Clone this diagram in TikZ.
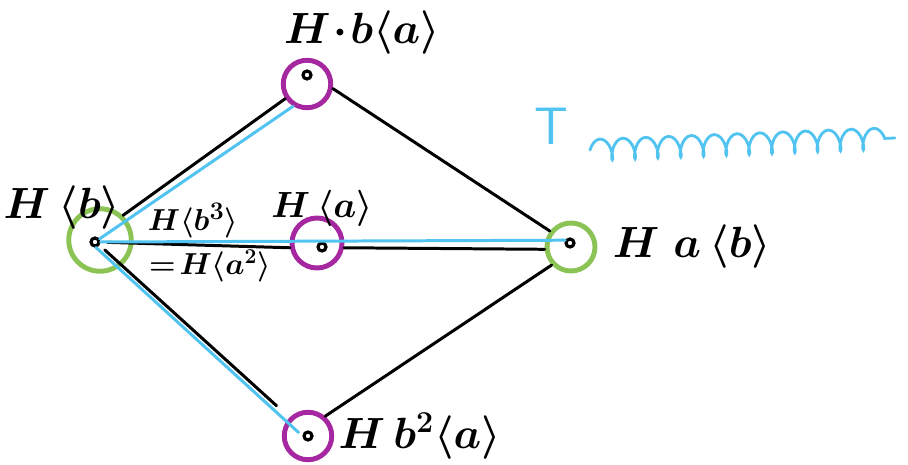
\documentclass[tikz,border=0pt]{standalone}
\usetikzlibrary{positioning,decorations.pathmorphing}
\usepackage{amsmath,amssymb}

\definecolor{cosetpurple}{RGB}{165,40,160}
\definecolor{cosetgreen}{RGB}{140,195,85}
\definecolor{cosetblue}{RGB}{80,195,240}

\begin{document}
\begin{tikzpicture}[
  x=0.02cm, y=-0.02cm,
  dot/.style={
    circle,
    draw=black,
    fill=white,
    line width=1.8pt,
    inner sep=0pt,
    minimum size=0.16cm
  },
  pring/.style={
    circle,
    draw=cosetpurple,
    line width=2.8pt,
    inner sep=0pt,
    minimum size=0.95cm
  },
  gring/.style={
    circle,
    draw=cosetgreen,
    line width=2.8pt,
    inner sep=0pt,
    minimum size=1.25cm
  },
  edge/.style={draw=black, line width=1.7pt, line cap=round},
  trail/.style={draw=cosetblue, line width=1.7pt, line cap=round},
  lbl/.style={inner sep=0pt, font=\boldmath\fontsize{24}{28}\selectfont},
  smalllbl/.style={inner sep=0pt, font=\boldmath\fontsize{20}{24}\selectfont},
  biglbl/.style={inner sep=0pt, font=\boldmath\fontsize{36}{42}\selectfont}
]
\useasboundingbox (0,0) rectangle (908,465);

% cosets
\node[gring] (hbring) at (100,240) {};
\node[dot] (hb) at (95,242) {};
\node[pring] (hbaring) at (307,84) {};
\node[dot] (hba) at (307,75) {};
\node[pring, minimum size=1cm] (haring) at (317,243) {};
\node[dot] (ha) at (322,247) {};
\node[gring, minimum size=0.96cm] (harring) at (571,247) {};
\node[dot] (har) at (570,243) {};
\node[pring] (hbbaring) at (308,436) {};
\node[dot] (hbba) at (308,436) {};

% labels
\node[lbl] (hblabel) at (62,208) {$H\,\langle b\rangle$};
\node[lbl, font=\boldmath\fontsize{23}{27}\selectfont] (hbalabel) at (362,33) {$H\!\cdot\! b\langle a\rangle$};
\node[smalllbl] (halabel) at (322,208) {$H\,\langle a\rangle$};
\node[smalllbl, font=\boldmath\fontsize{19}{22}\selectfont] (hbcubelabel) at (193,221) {$H\langle b^{3}\rangle$};
\node[smalllbl, font=\boldmath\fontsize{18}{22}\selectfont] (hasqlabel) at (210,266) {$=\!H\langle a^{2}\rangle$};
\node[biglbl, right=0.3cm of harring] (harlabel) {$H\;a\,\langle b\rangle$};
\node[lbl, font=\boldmath\fontsize{27}{32}\selectfont, right=0.08cm of hbbaring] (hbbalabel) {$H\,b^{2}\langle a\rangle$};

% black connectors
\draw[edge] (hbring.47) -- (hbaring.214);
\draw[edge] (hbaring.-10) -- (harring.143);
\draw[edge, shorten <=4pt] (hb) -- (haring.190);
\draw[edge] (haring.-10) -- (harring.185);
\draw[edge, shorten <=4pt, shorten >=0.35cm] (hb.-35) -- (hbbaring.135);
\draw[edge] (hbbaring.49) -- (harring.223);

% blue path
\draw[trail] (hb.east) -- (har.150);
\draw[trail] (hb) -- (hbaring.238);
\draw[trail, shorten >=3pt] (hb.-80) -- (hbba.180);

% blue note
\node[font=\sffamily\fontsize{30}{34}\selectfont, text=cosetblue, inner sep=0pt] (notet) at (551,126) {T};
\coordinate (scribstart) at (590,150);
\coordinate (scribend) at (895,138);
\draw[trail, line width=1.6pt, decorate,
  decoration={coil, aspect=0.45, segment length=13pt, amplitude=6pt}]
  (scribstart) -- (scribend);
\end{tikzpicture}
\end{document}
